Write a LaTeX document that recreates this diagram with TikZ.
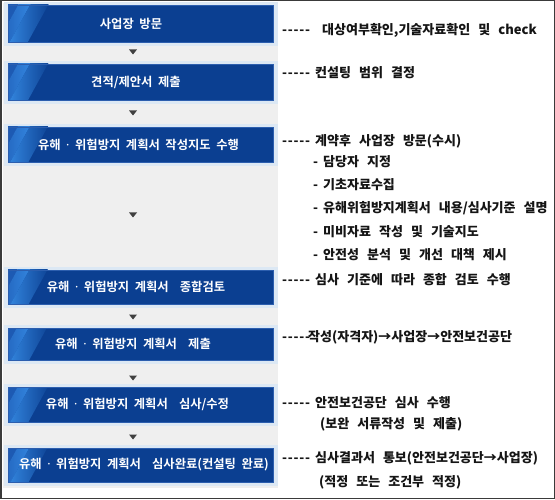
\documentclass[tikz,border=0pt]{standalone}
\usepackage{fontspec}
\newfontfamily\krtext[WordSpace=2.7,BoldFont={Noto Sans CJK KR Black}]{Noto Sans CJK KR}
\newfontfamily\krbar[WordSpace=2.0,BoldFont={Noto Sans CJK KR Bold}]{Noto Sans CJK KR}
\newfontfamily\latindot{Noto Sans}
\definecolor{panelgray}{HTML}{EFEFEF}
\definecolor{framecol}{HTML}{DCE8F4}
\definecolor{bdark}{HTML}{0B3F91}
\definecolor{blight}{HTML}{3589E2}
\definecolor{bleft}{HTML}{1D5AB3}
\definecolor{bedge}{HTML}{2C5EAE}
\definecolor{txt}{HTML}{151515}
\definecolor{arrowgray}{HTML}{404040}
\definecolor{outline}{HTML}{3A3A3A}
\tikzset{
  bartext/.style={text=white, font=\krbar\bfseries\fontsize{12.3}{14}\selectfont, inner sep=0pt},
  note/.style={text=txt, font=\krtext\bfseries\fontsize{13}{15}\selectfont, anchor=west, inner sep=0pt},
  downtri/.style={fill=arrowgray}
}
\newcommand{\dashes}{\makebox[28pt][s]{-\hfill-\hfill-\hfill-\hfill-}}
\newcommand{\md}{{\latindot\bfseries ·}}
\begin{document}
\begin{tikzpicture}[x=1pt,y=-1pt]
\useasboundingbox (0,0) rectangle (555,500);
\fill[white] (0,0) rectangle (555,500);
% left panel
\fill[panelgray] (3,3) rectangle (278,488);
% bars: top, bottom
\foreach \t/\b [count=\i] in {5/42,64/100,127/162,270/304,328/360,387/422,448/482}{
  \fill[framecol] (4,\t-3) rectangle (278,\b+4);
  \fill[bdark] (8,\t) rectangle (273,\b);
  \begin{scope}
    \clip (8,\t) rectangle (273,\b);
    \begin{scope}[shift={(0,{(\t+\b)/2})}, xslant=0.55]
      \fill[bleft] (-40,-25) rectangle (8,25);
      \shade[left color=bleft, right color=blight] (7.9,-25) rectangle (20,25);
      \shade[left color=blight, right color=bdark] (19.9,-25) rectangle (38,25);
    \end{scope}
  \end{scope}
  \draw[bedge, line width=0.6pt] (8,\t) rectangle (273,\b);
  \coordinate (bar\i) at (140.5,{(\t+\b)/2});
}
\node[bartext] (t1) at (131,23.5) {사업장 방문};
\node[bartext] (t2) at (136,82) {견적/제안서 제출};
\node[bartext] (t3) at (138.5,144.5) {유해 \md{} 위험방지 계획서 작성지도 수행};
\node[bartext] (t4) at (136,287) {유해 \md{} 위험방지 계획서 \ 종합검토};
\node[bartext] (t5) at (133,344) {유해 \md{} 위험방지 계획서 \ 제출};
\node[bartext] (t6) at (137.5,404.5) {유해 \md{} 위험방지 계획서 \ 심사/수정};
\node[bartext] (t7) at (144,465) {유해 \md{} 위험방지 계획서 \ 심사완료(컨설팅 완료)};
% arrows
\foreach \y in {52,113,215,317,378,437}{
  \fill[downtri] (129,\y-2.5) -- (137,\y-2.5) -- (133,\y+2.5) -- cycle;
}
% right notes
\node[note] (n1) at (282,30) {\makebox[40pt][l]{\dashes}대상여부확인,기술자료확인 및 check};
\node[note] (n2) at (282,73) {\makebox[33pt][l]{\dashes}컨설팅 범위 결정};
\node[note] (n3) at (282,141) {\makebox[33pt][l]{\dashes}계약후 사업장 방문(수시)};
\node[note] (n4) at (313,162) {\makebox[10pt][l]{-}담당자 지정};
\node[note] (n5) at (313,185) {\makebox[10pt][l]{-}기초자료수집};
\node[note] (n6) at (313,208) {\makebox[10pt][l]{-}유해위험방지계획서 내용/심사기준 설명};
\node[note] (n7) at (313,232) {\makebox[10pt][l]{-}미비자료 작성 및 기술지도};
\node[note] (n8) at (313,255) {\makebox[10pt][l]{-}안전성 분석 및 개선 대책 제시};
\node[note] (n9) at (282,280) {\makebox[33pt][l]{\dashes}심사 기준에 따라 종합 검토 수행};
\node[note] (n10) at (282,337) {\makebox[26pt][l]{\dashes}작성(자격자)→사업장→안전보건공단};
\node[note] (n11) at (282,403) {\makebox[33pt][l]{\dashes}안전보건공단 심사 수행};
\node[note] (n12) at (320,424) {(보완 서류작성 및 제출)};
\node[note] (n13) at (282,458) {\makebox[33pt][l]{\dashes}심사결과서 통보(안전보건공단→사업장)};
\node[note] (n14) at (319,482) {(적정 또는 조건부 적정)};
% outer border
\draw[outline, line width=1.5pt] (0.75,0.75) rectangle (554.25,498.5);
\end{tikzpicture}
\end{document}
